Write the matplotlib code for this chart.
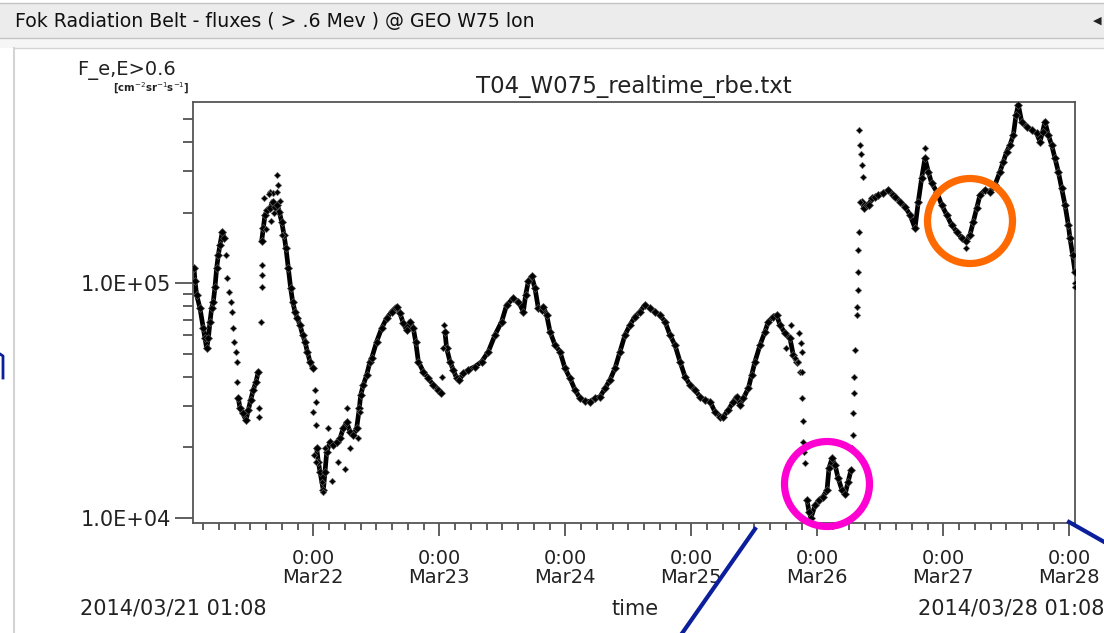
import numpy as np
import matplotlib
matplotlib.use("Agg")
import matplotlib.pyplot as plt
import matplotlib.dates as mdates
import matplotlib.ticker as mticker
from matplotlib.patches import Circle, Rectangle
from matplotlib.lines import Line2D
from matplotlib.transforms import IdentityTransform
import datetime as dt

# ---------------- data (hours since 2014-03-22 00:00, flux) ----------------
seg1_hours = [-22.73, -22.54, -22.23, -21.59, -20.96, -20.64, -20.32, -20.0, -19.69, -19.37,
              -19.05, -18.73, -18.42, -18.1, -17.78, -17.34, -16.96]
seg1_flux = [1.16e5, 1.02e5, 8.92e4, 7.82e4, 6.43e4, 5.82e4, 5.28e4, 5.82e4, 6.86e4, 7.82e4,
             8.35e4, 9.67e4, 1.16e5, 1.32e5, 1.46e5, 1.66e5, 1.56e5]

seg2_hours = [-14.29, -13.97, -13.46, -12.83, -12.38, -11.94, -11.43, -10.92, -10.48]
seg2_flux = [3.23e4, 2.93e4, 2.79e4, 2.61e4, 2.88e4, 3.18e4, 3.51e4, 3.8e4, 4.2e4]

seg3_hours = [-9.85, -9.53, -9.21, -8.77, -8.26, -7.75, -7.31, -6.86, -6.48, -6.04, -5.59,
              -5.21, -4.77, -4.32, -3.94, -3.5, -3.05, -2.54, -2.04, -1.59, -1.15, -0.64, -0.13]
seg3_flux = [1.51e5, 1.72e5, 1.96e5, 2.05e5, 2.09e5, 2.23e5, 2.12e5, 2.16e5, 2.02e5, 1.83e5, 1.61e5,
             1.41e5, 1.16e5, 9.52e4, 8.35e4, 7.57e4, 7.09e4, 6.64e4, 6.02e4, 5.64e4, 5.11e4, 4.63e4, 4.34e4]

seg4_hours = [0.63, 0.95, 1.27, 1.9, 2.22, 2.54, 3.17, 3.81, 4.44, 5.08, 5.71, 6.34, 6.98, 7.61,
              8.25, 8.76, 9.01, 9.52, 10.15, 10.79, 11.11, 12.06, 13.01, 13.96, 14.92, 15.87,
              16.5, 17.14, 17.77, 18.41, 19.04, 19.49, 20.0, 20.95, 21.9, 22.85, 23.81, 24.31]
seg4_flux = [1.98e4, 1.73e4, 1.57e4, 1.31e4, 1.57e4, 1.9e4, 2.1e4, 2.04e4, 2.1e4, 2.18e4, 2.41e4,
             2.55e4, 2.33e4, 2.25e4, 2.41e4, 2.93e4, 3.33e4, 3.68e4, 4.06e4, 4.63e4, 4.79e4, 5.64e4,
             6.43e4, 7.09e4, 7.57e4, 7.95e4, 7.44e4, 6.75e4, 6.32e4, 6.86e4, 6.43e4, 5.64e4, 4.63e4,
             4.2e4, 3.93e4, 3.68e4, 3.51e4, 3.39e4]

seg5_hours = [25.07, 25.39, 26.03, 26.66, 27.3, 27.81, 28.57, 29.52, 30.79, 32.06, 33.33, 34.6,
              35.87, 36.82, 38.09, 39.04, 40.0, 40.44, 40.95, 41.59, 42.22, 42.85, 43.49, 43.81,
              44.44, 45.08, 46.03, 46.98, 47.93, 48.89, 49.84, 50.79, 51.74, 52.69, 53.65, 54.6,
              55.55, 56.5, 57.46, 58.41, 59.36, 60.31, 61.27, 62.22, 63.17, 64.12, 65.07, 66.03,
              66.98, 67.93, 68.88, 69.84, 70.79, 71.74, 72.69, 73.64, 74.6, 75.55, 76.5, 77.46,
              78.09, 79.04, 80.0, 80.63, 81.27, 81.9, 82.85, 83.49, 84.12, 85.08, 86.03, 86.66,
              87.61, 88.25, 88.88, 89.84, 90.79, 91.42, 92.06]
seg5_flux = [6.2e4, 5.28e4, 4.63e4, 4.27e4, 3.93e4, 3.87e4, 4.13e4, 4.27e4, 4.41e4, 4.63e4, 5.11e4,
             6.02e4, 6.86e4, 8.08e4, 8.63e4, 8.35e4, 7.57e4, 8.92e4, 1.02e5, 1.07e5, 9.52e4, 7.82e4,
             7.69e4, 7.95e4, 7.32e4, 6.22e4, 5.45e4, 5.11e4, 4.34e4, 3.93e4, 3.51e4, 3.23e4, 3.15e4,
             3.13e4, 3.23e4, 3.28e4, 3.56e4, 3.87e4, 4.34e4, 5.11e4, 6.02e4, 6.64e4, 7.21e4, 7.57e4,
             8.08e4, 7.82e4, 7.57e4, 7.32e4, 6.86e4, 6.02e4, 5.45e4, 4.63e4, 4.0e4, 3.68e4, 3.51e4,
             3.28e4, 3.18e4, 3.13e4, 2.83e4, 2.7e4, 2.7e4, 2.88e4, 3.13e4, 3.28e4, 3.03e4, 3.23e4,
             3.56e4, 4.06e4, 4.63e4, 5.45e4, 6.22e4, 6.86e4, 7.21e4, 7.32e4, 6.64e4, 6.12e4, 5.82e4,
             4.94e4, 4.63e4]

seg6_hours = [94.03, 94.41, 94.79, 95.56, 96.32, 97.08, 97.84, 98.22, 98.8, 99.37, 99.94,
              100.7, 101.28, 101.85, 102.42]
seg6_flux = [1.19e4, 1.06e4, 1.0e4, 1.13e4, 1.19e4, 1.23e4, 1.31e4, 1.63e4, 1.79e4, 1.68e4,
             1.48e4, 1.31e4, 1.26e4, 1.42e4, 1.6e4]

seg7_hours = [104.44, 104.95, 105.39, 105.84, 106.34, 106.98, 107.61, 108.57, 109.52, 110.47,
              110.79, 111.74, 112.69, 113.65, 114.6, 115.23, 115.87, 116.5, 117.14, 117.77,
              118.73, 119.68, 120.63, 121.58, 122.54, 123.49, 124.31, 125.07, 125.71, 126.35,
              126.98, 127.93, 128.89, 129.84, 130.79, 131.42, 132.06, 132.69, 133.33, 133.84,
              134.28, 134.92, 135.87, 136.82, 137.77, 138.41, 138.92, 139.36, 139.99, 140.63,
              141.27, 141.9, 142.54, 143.17, 143.81, 144.12, 144.63, 145.08]
seg7_flux = [2.23e5, 2.09e5, 2.16e5, 2.16e5, 2.3e5, 2.34e5, 2.38e5, 2.42e5, 2.5e5, 2.38e5,
             2.34e5, 2.23e5, 2.12e5, 1.96e5, 1.72e5, 2.23e5, 2.81e5, 3.41e5, 2.99e5, 2.67e5,
             2.46e5, 2.16e5, 1.96e5, 1.77e5, 1.66e5, 1.56e5, 1.51e5, 1.61e5, 1.83e5, 2.09e5,
             2.38e5, 2.5e5, 2.46e5, 2.63e5, 2.99e5, 3.3e5, 3.64e5, 3.89e5, 4.29e5, 5.22e5,
             5.76e5, 4.89e5, 4.66e5, 4.51e5, 4.36e5, 4.02e5, 4.44e5, 4.89e5, 4.29e5, 3.89e5,
             3.41e5, 2.99e5, 2.54e5, 2.16e5, 1.77e5, 1.56e5, 1.32e5, 1.12e5]

sparse_hours = [-16.64, -16.39, -16.0, -15.75, -15.43, -15.24, -15.05, -14.8, -14.54, -14.48,
                -10.35, -10.35, -10.04, -9.85, -9.78, -9.72, -8.26, -7.6, -6.86, -6.67,
                -9.4, -9.0, -8.5, -8.0, -7.5, -7.0, -6.3, -5.9,
                0.31, 0.44, -0.13, 0.5, 0.12, 0.5, 1.58, 1.9, 2.22, 2.85, 3.49, 4.76, 6.03,
                6.34, 6.98, 8.57, 8.88, 24.57, 24.76, 24.95, 90.1, 90.98, 91.74, 92.38, 92.5,
                92.7, 92.88, 93.01, 93.14, 93.14, 93.33, 93.33, 93.45, 93.65, 102.53, 102.73,
                102.73, 103.04, 103.04, 103.17, 103.49, 103.49, 103.68, 103.81, 103.81, 103.93,
                104.12, 104.0, 104.2, 104.3, 104.5, 104.6, 116.5, 124.3, 145.1, 145.1]
sparse_flux = [1.32e5, 1.05e5, 9.21e4, 8.35e4, 7.57e4, 6.43e4, 5.64e4, 5.11e4, 4.63e4, 3.8e4,
               2.93e4, 2.7e4, 6.86e4, 9.67e4, 1.085e5, 1.2e5, 2.46e5, 2.42e5, 2.9e5, 2.63e5,
               2.3e5, 1.7e5, 2.4e5, 1.85e5, 2.0e5, 2.45e5, 2.25e5, 1.6e5,
               3.51e4, 3.13e4, 2.83e4, 2.49e4, 1.85e4, 1.73e4, 1.42e4, 1.29e4, 1.98e4, 2.41e4,
               1.44e4, 1.73e4, 1.62e4, 2.93e4, 1.98e4, 2.18e4, 2.83e4, 4.0e4, 5.28e4, 6.64e4,
               5.28e4, 6.64e4, 4.79e4, 4.63e4, 6.12e4, 4.2e4, 5.55e4, 5.11e4, 4.2e4, 3.23e4,
               2.58e4, 2.1e4, 1.9e4, 1.71e4, 1.98e4, 2.25e4, 2.79e4, 3.39e4, 4.0e4, 5.2e4,
               7.32e4, 7.95e4, 9.36e4, 1.12e5, 1.38e5, 1.66e5, 2.23e5, 4.51e5, 3.89e5, 3.55e5,
               3.2e5, 2.85e5, 3.77e5, 1.41e5, 1.0e5, 9.6e4]

segments = [(seg1_hours, seg1_flux), (seg2_hours, seg2_flux), (seg3_hours, seg3_flux),
            (seg4_hours, seg4_flux), (seg5_hours, seg5_flux), (seg6_hours, seg6_flux),
            (seg7_hours, seg7_flux)]

start_hour, end_hour = -22.8667, 145.1333   # 2014/03/21 01:08 -> 2014/03/28 01:08
y_min, y_max = 9.52e3, 5.95e5

title = "T04_W075_realtime_rbe.txt"
header = "Fok Radiation Belt - fluxes ( > .6 Mev ) @ GEO W75 lon"

# ---------------- figure ----------------
W, H = 1104, 633
fig = plt.figure(figsize=(W / 100, H / 100), dpi=100)
fig.patch.set_facecolor("white")

def fx(px):
    return px / W

def fy(py):
    return 1 - py / H

# header bar
fig.add_artist(Rectangle((0, fy(38)), 1, 35 / H, transform=fig.transFigure,
                         facecolor="#ececec", edgecolor="none", zorder=-5))
fig.add_artist(Rectangle((0, fy(48)), 1, 10 / H, transform=fig.transFigure,
                         facecolor="#f6f6f6", edgecolor="none", zorder=-5))
for yy in (3, 38):
    fig.add_artist(Line2D([0, 1], [fy(yy), fy(yy)], transform=fig.transFigure,
                          color="#c4c4c4", lw=1))
fig.add_artist(Line2D([fx(14), 1], [fy(48), fy(48)], transform=fig.transFigure,
                      color="#d4d4d4", lw=1))
fig.add_artist(Line2D([fx(14), fx(14)], [fy(48), 0], transform=fig.transFigure,
                      color="#d4d4d4", lw=1.5))
fig.text(fx(15), fy(22), header, fontsize=13.6, family="DejaVu Sans",
         ha="left", va="center", color="#111111")
fig.text(fx(1097), fy(21), "\u25C0", fontsize=8, ha="center", va="center", color="#222222")

# axes
ax = fig.add_axes([fx(193.3), fy(522.7), 882 / W, 421 / H])
base = mdates.date2num(dt.datetime(2014, 3, 22, 0, 0))

for hrs, flx in segments:
    xs = base + np.asarray(hrs) / 24.0
    ax.plot(xs, flx, "-", color="black", lw=3.4, solid_joinstyle="round",
            solid_capstyle="round", zorder=2)
    ax.plot(xs, flx, "D", ms=3.8, mfc="black", mec="#555555", mew=0.5, zorder=3)

ax.plot(base + np.asarray(sparse_hours) / 24.0, sparse_flux, "D", ms=3.2,
        mfc="black", mec="#666666", mew=0.5, ls="none", zorder=3)

ax.set_yscale("log")
ax.set_ylim(y_min, y_max)
ax.set_xlim(base + start_hour / 24.0, base + end_hour / 24.0)

ax.xaxis.set_major_locator(mdates.HourLocator(byhour=[0]))
ax.xaxis.set_minor_locator(mdates.HourLocator(byhour=range(0, 24, 3)))

def xfmt(x, pos=None):
    d = mdates.num2date(x)
    return "%d:%02d\n%s" % (d.hour, d.minute, d.strftime("%b%d"))

ax.xaxis.set_major_formatter(mticker.FuncFormatter(xfmt))
ax.yaxis.set_major_locator(mticker.LogLocator(base=10, numticks=10))
ax.yaxis.set_minor_locator(mticker.LogLocator(base=10, subs=np.arange(2, 10), numticks=20))
ax.yaxis.set_major_formatter(mticker.FuncFormatter(
    lambda v, p: "%.1fE+%02d" % (v / 10 ** int(round(np.log10(v))), int(round(np.log10(v))))))
ax.yaxis.set_minor_formatter(mticker.NullFormatter())

for s in ax.spines.values():
    s.set_color("#555555")
    s.set_linewidth(1.3)

ax.tick_params(axis="y", which="major", direction="out", length=13, width=1.2,
               color="#444444", labelsize=15, pad=3, labelcolor="#222222")
ax.tick_params(axis="y", which="minor", direction="out", length=7.5, width=1.2, color="#444444")
ax.tick_params(axis="x", which="major", direction="out", length=9, width=1.2,
               color="#444444", labelsize=14, pad=10, labelcolor="#222222")
ax.tick_params(axis="x", which="minor", direction="out", length=5, width=1.2, color="#444444")
ax.tick_params(top=False, right=False)

fig.canvas.draw()
for t in ax.get_xticklabels():
    t.set_linespacing(1.02)

# text
fig.text(fx(634), fy(87), title, ha="center", va="center", fontsize=16.5, color="#222222")
fig.text(fx(77), fy(71), "F_e,E>0.6", ha="left", va="center", fontsize=14, color="#222222")
fig.text(fx(113), fy(88), r"[cm$^{-2}$sr$^{-1}$s$^{-1}$]", ha="left", va="center",
         fontsize=7.3, color="#222222", fontweight="bold")
fig.text(fx(80), fy(609), "2014/03/21 01:08", ha="left", va="center", fontsize=15, color="#222222")
fig.text(fx(635), fy(609), "time", ha="center", va="center", fontsize=15, color="#222222")
fig.text(fx(918), fy(609), "2014/03/28 01:08", ha="left", va="center", fontsize=15, color="#222222")

# annotations (overlaid marks)
idt = IdentityTransform()
fig.add_artist(Circle((827, H - 484), 42.5, transform=idt, fill=False,
                      edgecolor="#ff00d2", lw=5.2, zorder=10))
fig.add_artist(Circle((970, H - 221), 42.5, transform=idt, fill=False,
                      edgecolor="#ff6a00", lw=5.2, zorder=10))
blue = "#0b1f9c"
fig.add_artist(Line2D([fx(755), fx(676)], [fy(529), fy(642)], transform=fig.transFigure,
                      color=blue, lw=3, zorder=10))
fig.add_artist(Line2D([fx(1069), fx(1106)], [fy(522), fy(543)], transform=fig.transFigure,
                      color=blue, lw=3, zorder=10))
fig.add_artist(Line2D([fx(0), fx(3), fx(3)], [fy(354), fy(356), fy(378)], transform=fig.transFigure,
                      color=blue, lw=2, zorder=10))

fig.savefig("out.png", dpi=100)
